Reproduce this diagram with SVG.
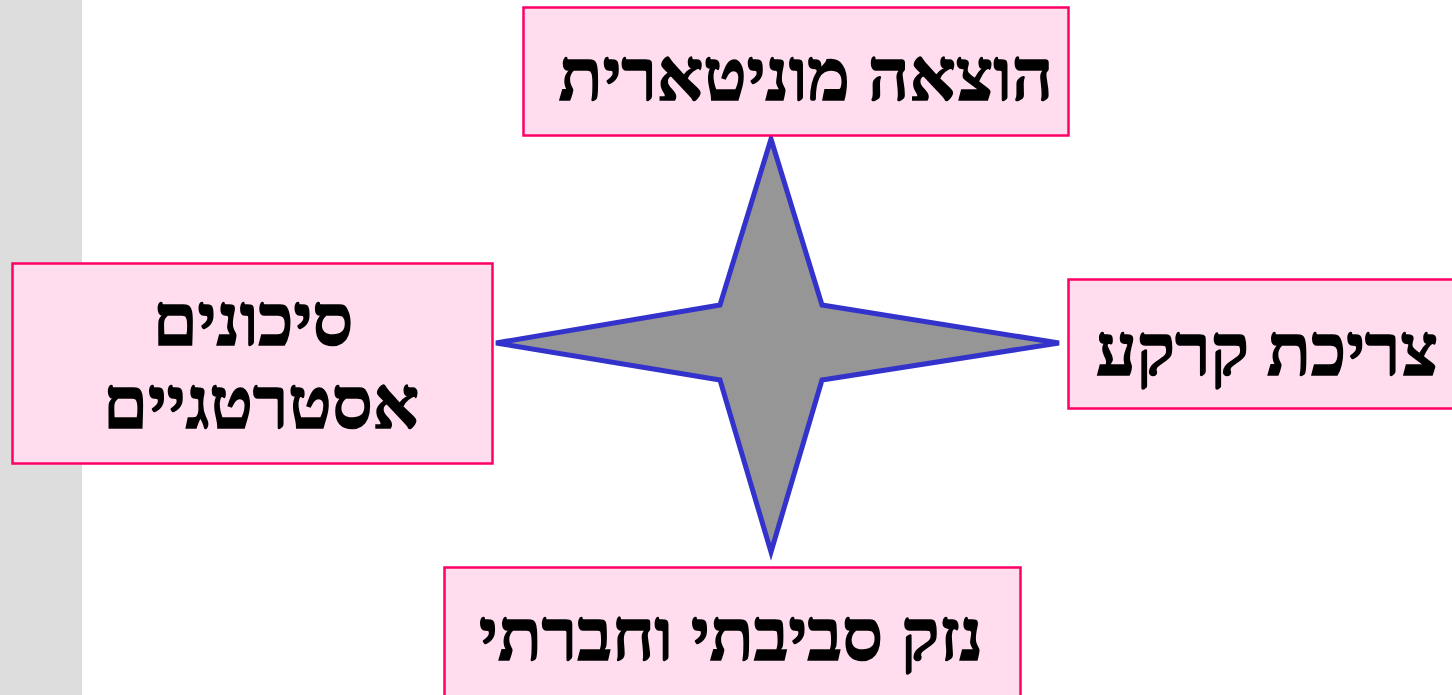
<svg xmlns="http://www.w3.org/2000/svg" width="1452" height="695" viewBox="0 0 1452 695">
<style>
.box{fill:#FFDDEE;stroke:#FF0066;stroke-width:2.5}
.t{font-family:"Liberation Serif","DejaVu Serif",serif;font-weight:bold;font-size:72px;fill:#000;stroke:#000;stroke-width:1.6;text-anchor:middle}
</style>
<rect x="0" y="0" width="1452" height="695" fill="#FFFFFF"/>
<rect x="0" y="0" width="82" height="695" fill="#DDDDDD"/>
<g id="connectors"></g>
<g id="star">
<polygon points="771,139 822,305 1059,343 822,380 771,552 720,380 496,343 720,305" fill="#969696" stroke="#3333CC" stroke-width="5" stroke-linejoin="miter"/>
</g>
<g id="node-top">
<rect class="box" x="523.5" y="7.5" width="545" height="128"/>
<text class="t" x="806" y="100">הוצאה מוניטארית</text>
</g>
<g id="node-left">
<rect class="box" x="12.5" y="263.5" width="480" height="200"/>
<text class="t" x="253" y="345">סיכונים</text>
<text class="t" x="261" y="428">אסטרטגיים</text>
</g>
<g id="node-right">
<rect class="box" x="1068.5" y="279.5" width="390" height="129"/>
<text class="t" x="1267" y="375">צריכת קרקע</text>
</g>
<g id="node-bottom">
<rect class="box" x="444.5" y="567.5" width="576" height="140"/>
<text class="t" x="731" y="660">נזק סביבתי וחברתי</text>
</g>
</svg>
